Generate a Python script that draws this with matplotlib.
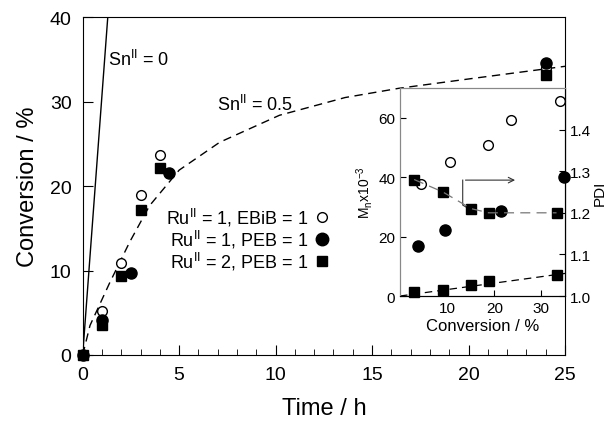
import matplotlib
matplotlib.use("Agg")
import matplotlib.pyplot as plt
from matplotlib.ticker import MultipleLocator

plt.rcParams["font.family"] = ["Liberation Sans", "DejaVu Sans"]
plt.rcParams["mathtext.fontset"] = "custom"
plt.rcParams["mathtext.rm"] = "Liberation Sans"
plt.rcParams["mathtext.it"] = "Liberation Sans:italic"

# main panel: conversion vs time
t_ebib = [0, 1, 2, 3, 4, 24]
conv_ebib = [0, 5.25, 10.85, 19.0, 23.7, 34.0]
t_peb1 = [0, 1, 2.5, 4.5, 24]
conv_peb1 = [0, 4.2, 9.7, 21.6, 34.6]
t_peb2 = [0, 1, 2, 3, 4, 24]
conv_peb2 = [0, 3.6, 9.3, 17.2, 22.1, 33.2]

t_sn0 = [0, 1.3]
conv_sn0 = [0, 40]
t_sn05 = [0, 0.38, 1.41, 2.44, 3.47, 5.0, 7.1, 10.2, 13.6, 16.4, 20.0, 25.0]
conv_sn05 = [0, 3.5, 8.6, 13.4, 17.7, 21.9, 25.2, 28.4, 30.5, 31.6, 32.7, 34.2]

# inset: Mn and PDI vs conversion
x_mn_ebib = [4.5, 10.5, 18.7, 23.5, 34.0]
mn_ebib = [37.7, 45.0, 50.7, 59.3, 65.6]
x_mn_peb1 = [3.75, 9.5, 21.5, 34.7]
mn_peb1 = [16.7, 22.3, 28.5, 40.0]
x_peb2 = [3.0, 9.1, 15.1, 18.8, 33.2]
mn_peb2 = [1.25, 2.0, 3.6, 4.9, 7.1]
pdi_peb2 = [1.28, 1.25, 1.21, 1.20, 1.20]
x_theo = [0, 35]
mn_theo = [0, 7.6]

ink = "black"
grey = "#888888"
fig = plt.figure(figsize=(6.07, 4.27), dpi=100)
ax = fig.add_axes([0.1362, 0.1663, 0.7946, 0.7907])

ax.plot(t_sn0, conv_sn0, color=ink, lw=1.0)
ax.plot(t_sn05, conv_sn05, color=ink, lw=1.0, ls=(0, (6, 4)))
ax.plot(t_ebib, conv_ebib, "o", mfc="white", mec=ink, ms=7, mew=1.0, clip_on=False)
ax.plot(t_peb1, conv_peb1, "o", color=ink, ms=8, clip_on=False)
ax.plot(t_peb2, conv_peb2, "s", color=ink, ms=7, clip_on=False)

ax.set_xlim(0, 25)
ax.set_ylim(0, 40)
ax.xaxis.set_major_locator(MultipleLocator(5))
ax.xaxis.set_minor_locator(MultipleLocator(1))
ax.yaxis.set_major_locator(MultipleLocator(10))
ax.tick_params(which="both", direction="in", labelsize=14, top=False, right=False)
ax.tick_params(which="major", length=7, pad=8)
ax.tick_params(which="minor", length=4)
ax.set_xlabel("Time / h", fontsize=17, labelpad=10)
ax.set_ylabel("Conversion / %", fontsize=17, labelpad=8)

ax.text(1.3, 35.1, r"Sn$^{\rm II}$ = 0", fontsize=13, va="center")
ax.text(6.95, 29.7, r"Sn$^{\rm II}$ = 0.5", fontsize=13, va="center")
legend_rows = [r"Ru$^{\rm II}$ = 1, EBiB = 1", r"Ru$^{\rm II}$ = 1, PEB = 1",
               r"Ru$^{\rm II}$ = 2, PEB = 1"]
for i, txt in enumerate(legend_rows):
    y = 16.3 - 2.6 * i
    ax.text(11.7, y, txt, fontsize=13, ha="right", va="center")
ax.plot([12.4], [16.3], "o", mfc="white", mec=ink, ms=7, mew=1.0)
ax.plot([12.4], [13.7], "o", color=ink, ms=9)
ax.plot([12.4], [11.1], "s", color=ink, ms=7)

# inset
ins = fig.add_axes([0.659, 0.3044, 0.2718, 0.4872])
ins.plot(x_theo, mn_theo, color=ink, lw=0.9, ls=(0, (6, 4)))
ins.plot(x_mn_ebib, mn_ebib, "o", mfc="white", mec=ink, ms=7, mew=1.0, clip_on=False)
ins.plot(x_mn_peb1, mn_peb1, "o", color=ink, ms=8, clip_on=False)
ins.plot(x_peb2, mn_peb2, "s", color=ink, ms=6.5, clip_on=False)
ins.set_xlim(0, 35)
ins.set_ylim(0, 70)
ins.set_xticks([10, 20, 30])
ins.set_yticks([0, 20, 40, 60])
ins.tick_params(direction="in", labelsize=11, length=4, right=False, top=False)
ins.set_xlabel("Conversion / %", fontsize=12, labelpad=2)
ins.set_ylabel(r"M$_{\rm n}$x10$^{-3}$", fontsize=10, labelpad=2)
for side in ("left", "top"):
    ins.spines[side].set_color(grey)

ins2 = ins.twinx()
ins2.plot(x_peb2, pdi_peb2, "s", color=ink, ms=6.5, clip_on=False)
ins2.plot(x_peb2, pdi_peb2, color="#777777", lw=0.9, ls=(0, (8, 5)))
ins2.set_ylim(1.0, 1.5)
ins2.set_yticks([1.0, 1.1, 1.2, 1.3, 1.4])
ins2.tick_params(direction="in", labelsize=11, length=4)
ins2.set_ylabel("PDI", fontsize=11, labelpad=1)
ins2.spines["top"].set_color(grey)
ins2.spines["left"].set_color(grey)

ins.annotate("", xy=(25.0, 39.0), xytext=(13.3, 39.0),
             arrowprops=dict(arrowstyle="->", color="#333333", lw=0.8))
ins.plot([13.3, 13.3, 15.1], [39.0, 30.6, 28.9], color="#333333", lw=0.8)

fig.savefig("out.png", dpi=100)
